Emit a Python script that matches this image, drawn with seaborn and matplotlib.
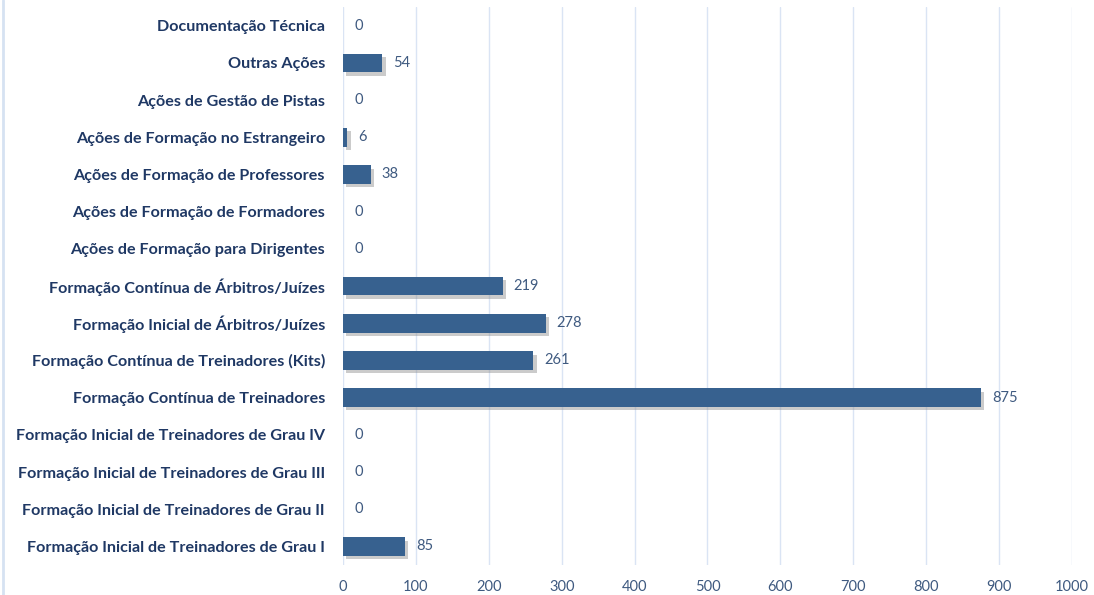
import matplotlib
matplotlib.use("Agg")
import matplotlib.pyplot as plt
import matplotlib.patheffects as pe
import seaborn as sns
import pandas as pd

categories = [
    "Documentação Técnica",
    "Outras Ações",
    "Ações de Gestão de Pistas",
    "Ações de Formação no Estrangeiro",
    "Ações de Formação de Professores",
    "Ações de Formação de Formadores",
    "Ações de Formação para Dirigentes",
    "Formação Contínua de Árbitros/Juízes",
    "Formação Inicial de Árbitros/Juízes",
    "Formação Contínua de Treinadores (Kits)",
    "Formação Contínua de Treinadores",
    "Formação Inicial de Treinadores de Grau IV",
    "Formação Inicial de Treinadores de Grau III",
    "Formação Inicial de Treinadores de Grau II",
    "Formação Inicial de Treinadores de Grau I",
]
values = [0, 54, 0, 6, 38, 0, 0, 219, 278, 261, 875, 0, 0, 0, 85]
x_ticks = [0, 100, 200, 300, 400, 500, 600, 700, 800, 900, 1000]

df = pd.DataFrame({"cat": categories, "val": values})

sns.set_theme(style="white")
plt.rcParams["font.family"] = ["Lato", "DejaVu Sans"]

fig = plt.figure(figsize=(10.94, 5.95), dpi=100)
ax = fig.add_axes([0.3135, 0.0504, 0.6664, 0.9378])

bar_color = "#37618F"
sns.barplot(data=df, x="val", y="cat", orient="h", color=bar_color,
            width=0.5, ax=ax, saturation=1, zorder=3)

for p in ax.patches:
    p.set_path_effects([pe.SimplePatchShadow(offset=(2.5, -2.5), shadow_rgbFace="#8c8c8c", alpha=0.45),
                        pe.Normal()])
    p.set_edgecolor("none")

ax.bar_label(ax.containers[0], labels=[str(v) for v in values], padding=8,
             color="#3F5A80", fontsize=10.5)

ax.set_xlim(0, 1000)
ax.set_ylim(14.5, -0.5)
ax.set_xticks(x_ticks)
ax.set_xticklabels([str(t) for t in x_ticks], color="#3F5A80", fontsize=10.5)
ax.tick_params(axis="x", length=0, pad=11)
ax.tick_params(axis="y", length=0, pad=13)
for lbl in ax.get_yticklabels():
    lbl.set_fontweight("bold")
    lbl.set_color("#1F3864")
    lbl.set_fontsize(11.6)
ax.set_xlabel("")
ax.set_ylabel("")
ax.grid(axis="x", color="#DAE4F4", linewidth=1.0, zorder=0)
ax.set_axisbelow(True)
for s in ax.spines.values():
    s.set_visible(False)

fig.add_artist(plt.Line2D([0.003, 0.003], [0, 1], transform=fig.transFigure,
                          color="#D6E2F2", linewidth=2))

fig.savefig("out.png", dpi=100, facecolor="white")
